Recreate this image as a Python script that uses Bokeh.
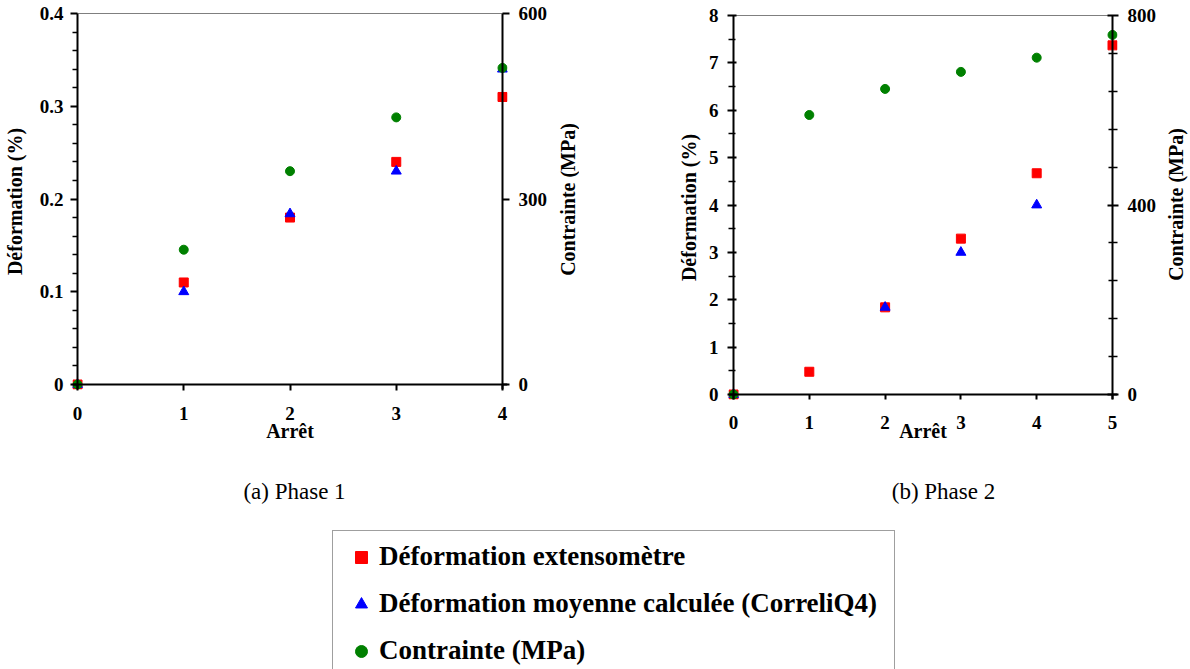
import math
from bokeh.plotting import figure
from bokeh.models import (Range1d, LinearAxis, FixedTicker, Label, Legend, Span,
                          LegendItem, ColumnDataSource, Spacer)
from bokeh.layouts import column, row
from bokeh.embed import file_html
from bokeh.resources import INLINE

# ---------------- data ----------------
arret_a = [0, 1, 2, 3, 4]
extenso_a = [0.0, 0.11, 0.18, 0.24, 0.31]
arret_a_calc = [0, 1, 2, 3, 4]
calcul_a = [0.0, 0.10, 0.184, 0.23, 0.34]
contrainte_a = [0, 218, 345, 432, 512]

arret_b = [0, 1, 2, 3, 4, 5]
extenso_b = [0.0, 0.48, 1.84, 3.29, 4.67, 7.37]
arret_b_calc = [0, 2, 3, 4]
calcul_b = [0.0, 1.84, 3.0, 4.0]
contrainte_b = [0, 590, 645, 681, 711, 759]

xticks_a = [0, 1, 2, 3, 4]
yticks_a = [0, 0.1, 0.2, 0.3, 0.4]
ylabels_a = ["0", "0.1", "0.2", "0.3", "0.4"]
yminor_a = [0.02, 0.04, 0.06, 0.08, 0.12, 0.14, 0.16, 0.18, 0.22, 0.24, 0.26, 0.28,
            0.32, 0.34, 0.36, 0.38]
y2ticks_a = [0, 300, 600]
y2labels_a = ["0", "300", "600"]

xticks_b = [0, 1, 2, 3, 4, 5]
yticks_b = [0, 1, 2, 3, 4, 5, 6, 7, 8]
ylabels_b = ["0", "1", "2", "3", "4", "5", "6", "7", "8"]
yminor_b = [0.5, 1.5, 2.5, 3.5, 4.5, 5.5, 6.5, 7.5]
y2ticks_b = [0, 400, 800]
y2labels_b = ["0", "400", "800"]
y2minor_b = [80, 160, 240, 320, 480, 560, 640, 720]

x_title = "Arrêt"
y_title = "Déformation (%)"
y2_title = "Contrainte (MPa)"
caption_a = "(a) Phase 1"
caption_b = "(b) Phase 2"
legend_labels = ["Déformation extensomètre",
                 "Déformation moyenne calculée (CorreliQ4)",
                 "Contrainte (MPa)"]

RED, BLUE, GREEN = "#ff0000", "#0000ff", "#008000"
FONT = "Liberation Serif"
TICK_SIZE = "19px"
TITLE_SIZE = "20px"
ROW_H = 470
PAD = 5  # room (px) around the axes so that markers on them are not cut


def style_axis(ax, ticks, labels=None, minor=None, tick_out=6, tick_in=0,
               minor_out=4, minor_in=0, standoff=8):
    # the frame edge lies PAD px outside the drawn axis line: shift ticks to match
    ax.ticker = FixedTicker(ticks=ticks, minor_ticks=minor or [])
    if labels is not None:
        ax.major_label_overrides = {t: l for t, l in zip(ticks, labels)}
    ax.axis_line_color = None
    ax.major_tick_line_width = 2
    ax.minor_tick_line_width = 1.5
    ax.major_tick_out = tick_out - PAD
    ax.major_tick_in = tick_in + PAD
    ax.minor_tick_out = minor_out - PAD
    ax.minor_tick_in = minor_in + PAD
    ax.major_label_text_font = FONT
    ax.major_label_text_font_style = "bold"
    ax.major_label_text_font_size = TICK_SIZE
    ax.major_label_text_color = "black"
    ax.major_label_standoff = standoff
    ax.axis_label_text_font = FONT
    ax.axis_label_text_font_style = "bold"
    ax.axis_label_text_font_size = TITLE_SIZE
    ax.axis_label_text_color = "black"


def make_chart(fig_left, fig_top, fig_w, fig_h, ax_l, ax_r, ax_t, ax_b,
               xmax, ymax, y2max):
    pxu_x = (ax_r - ax_l) / xmax
    pxu_y = (ax_b - ax_t) / ymax
    pxu_y2 = (ax_b - ax_t) / y2max
    p = figure(width=fig_w, height=fig_h, output_backend="svg", toolbar_location=None,
               x_range=Range1d(-PAD / pxu_x, xmax + PAD / pxu_x),
               y_range=Range1d(-PAD / pxu_y, ymax),
               min_border_left=ax_l - PAD - fig_left,
               min_border_right=fig_left + fig_w - (ax_r + PAD),
               min_border_top=ax_t - fig_top,
               min_border_bottom=fig_top + fig_h - (ax_b + PAD),
               outline_line_color=None,
               background_fill_color="white", border_fill_color="white")
    p.extra_y_ranges = {"s": Range1d(-PAD / pxu_y2, y2max)}
    p.xgrid.visible = False
    p.ygrid.visible = False
    yr = LinearAxis(y_range_name="s")
    p.add_layout(yr, "right")
    # axis lines and top border at the data limits
    p.add_layout(Span(location=0, dimension="height", line_color="black", line_width=2))
    p.add_layout(Span(location=xmax, dimension="height", line_color="black",
                      line_width=2))
    p.add_layout(Span(location=0, dimension="width", line_color="black", line_width=2))
    p.add_layout(Span(location=ymax, dimension="width", line_color="black",
                      line_width=1))
    return p, p.below[0], p.left[0], yr


def side_title(width, height, cx, cy, text):
    # a narrow strip holding a bottom-to-top title (for the right-hand axes)
    t = figure(width=width, height=height, output_backend="svg", toolbar_location=None,
               x_range=Range1d(0, 1), y_range=Range1d(0, 1), min_border=0,
               x_axis_type=None, y_axis_type=None, outline_line_color=None)
    t.grid.visible = False
    t.add_layout(Label(x=cx, y=height - cy, x_units="screen", y_units="screen",
                       text=text, angle=math.pi / 2, text_align="center",
                       text_baseline="middle", text_font=FONT, text_font_style="bold",
                       text_font_size=TITLE_SIZE, text_color="black"))
    return t


# ---------------- chart (a) ----------------
pa, xa, yla, yra = make_chart(0, 0, 555, ROW_H, 77, 502, 13, 384, 4, 0.4, 600)
style_axis(xa, xticks_a, tick_out=6, standoff=16)
xa.axis_label = x_title
xa.axis_label_standoff = -3
style_axis(yla, yticks_a, ylabels_a, yminor_a, tick_out=7, minor_out=5, standoff=7)
yla.axis_label = y_title
yla.axis_label_standoff = 11
style_axis(yra, y2ticks_a, y2labels_a, tick_out=7, standoff=9)

pa.scatter(arret_a, extenso_a, marker="square", size=9, color=RED)
pa.scatter(arret_a_calc, calcul_a, marker="triangle", size=10, color=BLUE)
pa.scatter(arret_a, contrainte_a, marker="circle", size=9, color=GREEN,
           y_range_name="s")
ta = side_title(24, ROW_H, 12, 199, y2_title)

# ---------------- chart (b) ----------------
pb, xb, ylb, yrb = make_chart(579, 2, 584, ROW_H - 2, 733, 1112, 15, 394, 5, 8, 800)
style_axis(xb, xticks_b, tick_out=5, standoff=16)
xb.axis_label = x_title
xb.axis_label_standoff = -12
style_axis(ylb, yticks_b, ylabels_b, yminor_b, tick_out=6, tick_in=3, minor_out=5,
           minor_in=2, standoff=9)
ylb.axis_label = y_title
ylb.axis_label_standoff = 6
style_axis(yrb, y2ticks_b, y2labels_b, y2minor_b, tick_out=6, tick_in=5, minor_out=5,
           minor_in=4, standoff=9)

pb.scatter(arret_b, extenso_b, marker="square", size=9, color=RED)
pb.scatter(arret_b_calc, calcul_b, marker="triangle", size=10, color=BLUE)
pb.scatter(arret_b, contrainte_b, marker="circle", size=9, color=GREEN,
           y_range_name="s")
tb = side_title(27, ROW_H, 12, 204, y2_title)

# ---------------- captions ----------------
pc = figure(width=1190, height=60, output_backend="svg", toolbar_location=None,
            x_range=Range1d(0, 1), y_range=Range1d(0, 1), min_border=0,
            x_axis_type=None, y_axis_type=None, outline_line_color=None)
pc.grid.visible = False
for txt, cx in ((caption_a, 294), (caption_b, 943)):
    pc.add_layout(Label(x=cx, y=39, x_units="screen", y_units="screen", text=txt,
                        text_align="center", text_baseline="middle", text_font=FONT,
                        text_font_size="23px", text_color="black"))

# ---------------- legend ----------------
pl = figure(width=1190, height=139, output_backend="svg", toolbar_location=None,
            x_range=Range1d(0, 1), y_range=Range1d(0, 1),
            min_border_left=332, min_border_top=0, min_border_right=0,
            min_border_bottom=0,
            x_axis_type=None, y_axis_type=None, outline_line_color=None)
pl.grid.visible = False
nowhere = ColumnDataSource(data=dict(x=[float("nan")], y=[float("nan")]))
r1 = pl.scatter("x", "y", source=nowhere, marker="square", color=RED)
r2 = pl.scatter("x", "y", source=nowhere, marker="triangle", color=BLUE)
r3 = pl.scatter("x", "y", source=nowhere, marker="circle", color=GREEN)
legend = Legend(items=[LegendItem(label=legend_labels[0], renderers=[r1]),
                       LegendItem(label=legend_labels[1], renderers=[r2]),
                       LegendItem(label=legend_labels[2], renderers=[r3])],
                location="top_left", margin=0, padding=10, spacing=16,
                glyph_width=36, glyph_height=30, label_height=30, label_standoff=0,
                label_width=505,
                border_line_color="#404040", border_line_width=1.5,
                background_fill_color="white", background_fill_alpha=1.0,
                label_text_font=FONT, label_text_font_style="bold",
                label_text_font_size="27px", label_text_color="black")
pl.add_layout(legend)

layout = column(row(pa, column(ta), column(Spacer(width=584, height=2), pb),
                    column(tb)),
                column(pc), column(pl))
open("out.html", "w").write(file_html(layout, INLINE))
